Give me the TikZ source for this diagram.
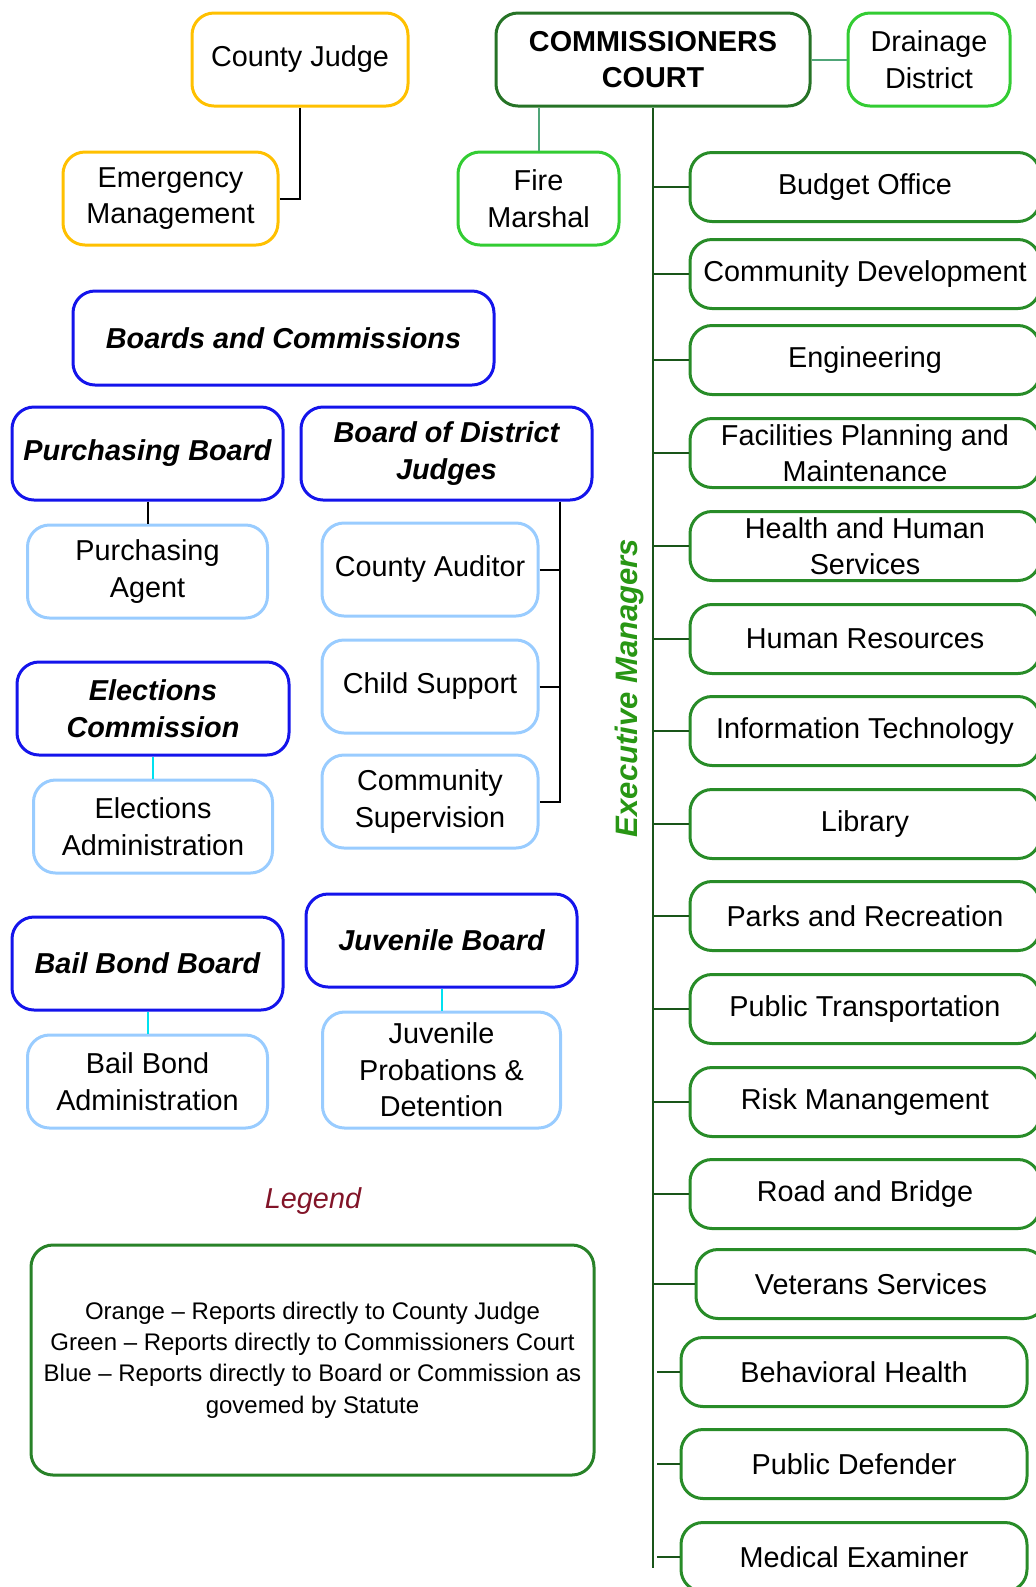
\documentclass[tikz,border=0pt]{standalone}
\usepackage{fontspec}
\setmainfont{Liberation Sans}
\usepackage{tikz}
\usetikzlibrary{positioning, calc}
\definecolor{judgeorange}{RGB}{255,192,0}
\definecolor{courtgreen}{RGB}{38,115,38}
\definecolor{deptgreen}{RGB}{40,140,40}
\definecolor{brightgreen}{RGB}{51,204,51}
\definecolor{boardblue}{RGB}{20,20,235}
\definecolor{unitblue}{RGB}{153,204,255}
\definecolor{linkteal}{RGB}{80,165,120}
\definecolor{linkcyan}{RGB}{0,225,240}
\definecolor{trunkgreen}{RGB}{25,85,25}
\definecolor{execgreen}{RGB}{40,150,20}
\definecolor{legendred}{RGB}{130,20,40}
\definecolor{legendgreen}{RGB}{40,130,40}
\tikzset{
  orgbox/.style={
    rectangle, rounded corners=11pt, line width=1.5pt, align=center,
    inner sep=0pt, text=black, font=\fontsize{14.4}{18.2}\selectfont
  },
  judgebox/.style={
    orgbox, draw=judgeorange, minimum width=108pt, minimum height=46.5pt
  },
  courtbox/.style={
    orgbox, draw=courtgreen, minimum width=157pt, minimum height=46.5pt,
    font=\fontsize{14.4}{18.2}\selectfont\bfseries
  },
  officebox/.style={
    orgbox, draw=brightgreen, minimum width=81pt, minimum height=46.5pt
  },
  deptbox/.style={
    orgbox, draw=deptgreen, minimum width=175pt, minimum height=34.5pt
  },
  boardbox/.style={
    orgbox, draw=boardblue, minimum width=135.5pt, minimum height=46.5pt,
    font=\fontsize{14.4}{18.2}\selectfont\bfseries\itshape
  },
  unitbox/.style={
    orgbox, draw=unitblue, minimum width=120pt, minimum height=46.5pt
  },
  link/.style={line width=1pt, color=black},
  teallink/.style={line width=1pt, color=linkteal},
  cyanlink/.style={line width=1pt, color=linkcyan},
  trunkline/.style={line width=1pt, color=trunkgreen}
}

\begin{document}
\begin{tikzpicture}[x=0.5pt, y=-0.5pt, node distance=11pt]
\useasboundingbox (0,0) rectangle (1036,1587);

% county judge
\node[judgebox] (county_judge) at (300,59.5) {County Judge};
\node[judgebox, minimum width=107.5pt] (emergency_mgmt) at (170.5,198.5) {Emergency\\Management};
\draw[link] (county_judge.south) |- (emergency_mgmt.east);

% commissioners court
\node[courtbox] (commissioners_court) at (653,59.5) {COMMISSIONERS\\COURT};
\node[officebox] (drainage_district) at (929,59.5) {Drainage\\District};
\node[officebox, minimum width=80.5pt] (fire_marshal) at (538.5,198.5) {Fire\\Marshal};
\draw[teallink] (commissioners_court.east) -- (drainage_district.west);
\draw[teallink] (fire_marshal.north) -- (fire_marshal.north |- commissioners_court.south);

\coordinate (trunk_end) at (653,1568);
\draw[trunkline] (commissioners_court.south) -- (trunk_end);
\node[rotate=90, font=\fontsize{15.5}{18}\selectfont\bfseries\itshape, text=execgreen] (exec_managers) at (629,688) {Executive Managers};

% departments
\node[deptbox] (budget_office) at (865,187) {Budget Office};
\node[deptbox] (community_dev) at (865,274) {Community Development};
\node[deptbox] (engineering) at (865,360) {Engineering};
\node[deptbox] (facilities) at (865,453) {Facilities Planning and\\Maintenance};
\node[deptbox] (health_human) at (865,546) {Health and Human\\Services};
\node[deptbox] (human_resources) at (865,639) {Human Resources};
\node[deptbox] (info_tech) at (865,731) {Information Technology};
\node[deptbox] (library) at (865,824) {Library};
\node[deptbox] (parks_rec) at (865,916) {Parks and Recreation};
\node[deptbox] (public_transport) at (865,1009) {Public Transportation};
\node[deptbox] (risk_mgmt) at (865,1102) {Risk Manangement};
\node[deptbox] (road_bridge) at (865,1194) {Road and Bridge};
\node[deptbox] (veterans) at (871,1284) {Veterans Services};
\node[deptbox, minimum width=173pt] (behavioral_health) at (854,1372) {Behavioral Health};
\node[deptbox, minimum width=173pt] (public_defender) at (854,1464) {Public Defender};
\node[deptbox, minimum width=173pt] (medical_examiner) at (854,1557) {Medical Examiner};

\draw[trunkline] (budget_office.west) -- (budget_office.west -| trunk_end);
\draw[trunkline] (community_dev.west) -- (community_dev.west -| trunk_end);
\draw[trunkline] (engineering.west) -- (engineering.west -| trunk_end);
\draw[trunkline] (facilities.west) -- (facilities.west -| trunk_end);
\draw[trunkline] (health_human.west) -- (health_human.west -| trunk_end);
\draw[trunkline] (human_resources.west) -- (human_resources.west -| trunk_end);
\draw[trunkline] (info_tech.west) -- (info_tech.west -| trunk_end);
\draw[trunkline] (library.west) -- (library.west -| trunk_end);
\draw[trunkline] (parks_rec.west) -- (parks_rec.west -| trunk_end);
\draw[trunkline] (public_transport.west) -- (public_transport.west -| trunk_end);
\draw[trunkline] (risk_mgmt.west) -- (risk_mgmt.west -| trunk_end);
\draw[trunkline] (road_bridge.west) -- (road_bridge.west -| trunk_end);
\draw[trunkline] (veterans.west) -- (veterans.west -| trunk_end);
\draw[trunkline] (behavioral_health.west) -- ++(-23,0);
\draw[trunkline] (public_defender.west) -- ++(-23,0);
\draw[trunkline] (medical_examiner.west) -- ++(-23,0);

% boards and commissions
\node[boardbox, minimum width=210.5pt, minimum height=47pt] (boards_comm) at (283.5,338) {Boards and Commissions};
\node[boardbox] (purchasing_board) at (147.5,453.5) {Purchasing Board};
\node[boardbox, minimum width=145.5pt] (board_judges) at (446.5,453.5) {Board of District\\Judges};
\node[unitbox, below=of purchasing_board] (purchasing_agent) {Purchasing\\Agent};
\draw[link] (purchasing_board) -- (purchasing_agent);

\node[unitbox, minimum width=108pt] (county_auditor) at (430,569.5) {County Auditor};
\node[unitbox, minimum width=108pt] (child_support) at (430,686.5) {Child Support};
\node[unitbox, minimum width=108pt] (community_sup) at (430,801.5) {Community\\Supervision};
\coordinate (judges_bus) at (560,0);
\draw[link] (board_judges.south -| judges_bus) |- (community_sup.east);
\draw[link] (county_auditor.east) -- (county_auditor.east -| judges_bus);
\draw[link] (child_support.east) -- (child_support.east -| judges_bus);

\node[boardbox, minimum width=136pt] (elections_comm) at (153,708.5) {Elections\\Commission};
\node[unitbox, minimum width=119.5pt, below=of elections_comm] (elections_admin) {Elections\\Administration};
\draw[cyanlink] (elections_comm) -- (elections_admin);

\node[boardbox] (bail_board) at (147.5,963.5) {Bail Bond Board};
\node[unitbox, below=of bail_board] (bail_admin) {Bail Bond\\Administration};
\draw[cyanlink] (bail_board) -- (bail_admin);

\node[boardbox] (juvenile_board) at (441.5,940.5) {Juvenile Board};
\node[unitbox, minimum width=119pt, minimum height=58pt, below=of juvenile_board] (juvenile_prob) {Juvenile\\Probations \&\\Detention};
\draw[cyanlink] (juvenile_board) -- (juvenile_prob);

% legend
\node[font=\fontsize{14.4}{18}\selectfont\itshape, text=legendred] (legend_title) at (313,1201) {Legend};
\node[rectangle, rounded corners=11pt, line width=1.5pt, draw=legendgreen, minimum width=281.5pt, minimum height=115pt,
  align=center, inner sep=0pt, font=\fontsize{12}{15.7}\selectfont] (legend_box) at (312.5,1360)
  {Orange -- Reports directly to County Judge\\Green -- Reports directly to Commissioners Court\\Blue -- Reports directly to Board or Commission as\\govemed by Statute};

\end{tikzpicture}
\end{document}
